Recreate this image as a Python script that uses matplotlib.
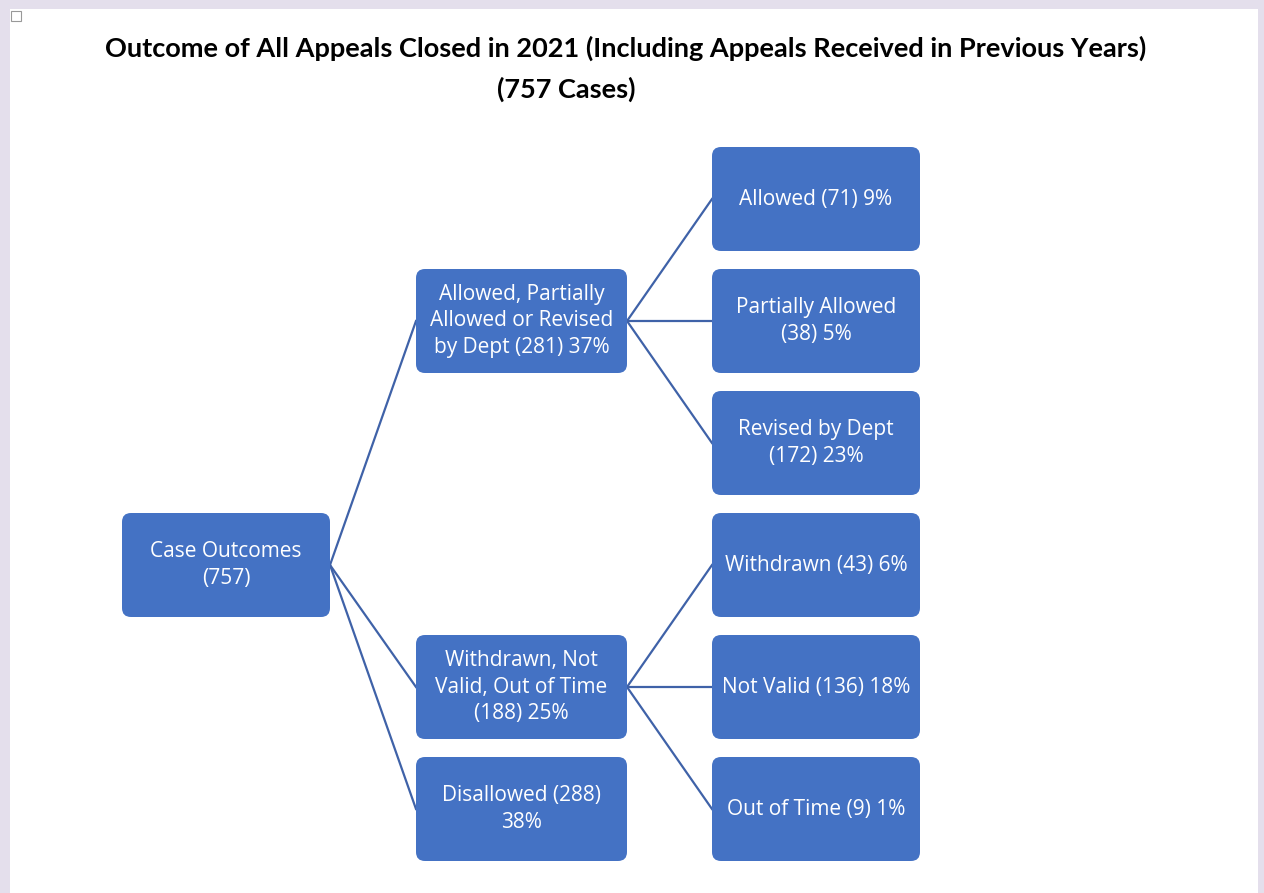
import matplotlib.pyplot as plt
from matplotlib.patches import FancyBboxPatch, Rectangle

# data
title = "Outcome of All Appeals Closed in 2021 (Including Appeals Received in Previous Years)"
subtitle = "(757 Cases)"
root_label = "Case Outcomes\n(757)"
mid_labels = ["Allowed, Partially\nAllowed or Revised\nby Dept (281) 37%",
              "Withdrawn, Not\nValid, Out of Time\n(188) 25%",
              "Disallowed (288)\n38%"]
leaf_labels = [["Allowed (71) 9%", "Partially Allowed\n(38) 5%", "Revised by Dept\n(172) 23%"],
               ["Withdrawn (43) 6%", "Not Valid (136) 18%", "Out of Time (9) 1%"],
               []]

# layout (pixels)
W, H = 1264, 893
box_blue = '#4472C4'
line_blue = '#3F62A8'
row_top = 147
row_step = 122
box_h = 104
col_x = [122, 416, 712]
col_w = [208, 211, 208]
root_row = 3
mid_rows = [1, 4, 5]
leaf_rows = [[0, 1, 2], [3, 4, 5], []]

fig = plt.figure(figsize=(W / 100, H / 100), dpi=100)
fig.patch.set_facecolor('#E4DFEC')
ax = fig.add_axes([0, 0, 1, 1])
ax.set_xlim(0, W)
ax.set_ylim(H, 0)
ax.axis('off')

ax.add_patch(Rectangle((10, 9), 1248, 884, facecolor='white', edgecolor='none', zorder=0))
ax.add_patch(Rectangle((11, 11), 10, 10, facecolor='white', edgecolor='#999999', lw=0.8, zorder=1))

font = ['Open Sans', 'DejaVu Sans']


def box(col, row, label):
    y = row_top + row * row_step
    x = col_x[col]
    w = col_w[col]
    ax.add_patch(FancyBboxPatch((x, y), w, box_h,
                                boxstyle="round,pad=0,rounding_size=9",
                                facecolor=box_blue, edgecolor='none', zorder=3))
    ax.text(x + w / 2, y + box_h / 2, label, ha='center', va='center',
            color='white', fontsize=15, family=font, linespacing=1.33, zorder=4)
    return (x, y + box_h / 2), (x + w, y + box_h / 2)


def link(p, q):
    ax.plot([p[0], q[0]], [p[1], q[1]], color=line_blue, lw=1.6, zorder=2)


_, root_right = box(0, root_row, root_label)
for i, lab in enumerate(mid_labels):
    left, right = box(1, mid_rows[i], lab)
    link(root_right, left)
    for j, leaf in enumerate(leaf_labels[i]):
        lleft, _ = box(2, leaf_rows[i][j], leaf)
        link(right, lleft)

ax.text(626, 48, title, ha='center', va='center', fontsize=19.5,
        fontweight='bold', family=['Lato', 'DejaVu Sans'], color='black')
ax.text(566, 89, subtitle, ha='center', va='center', fontsize=19.5,
        fontweight='bold', family=['Lato', 'DejaVu Sans'], color='black')

fig.savefig('out.png', dpi=100, facecolor=fig.get_facecolor())
